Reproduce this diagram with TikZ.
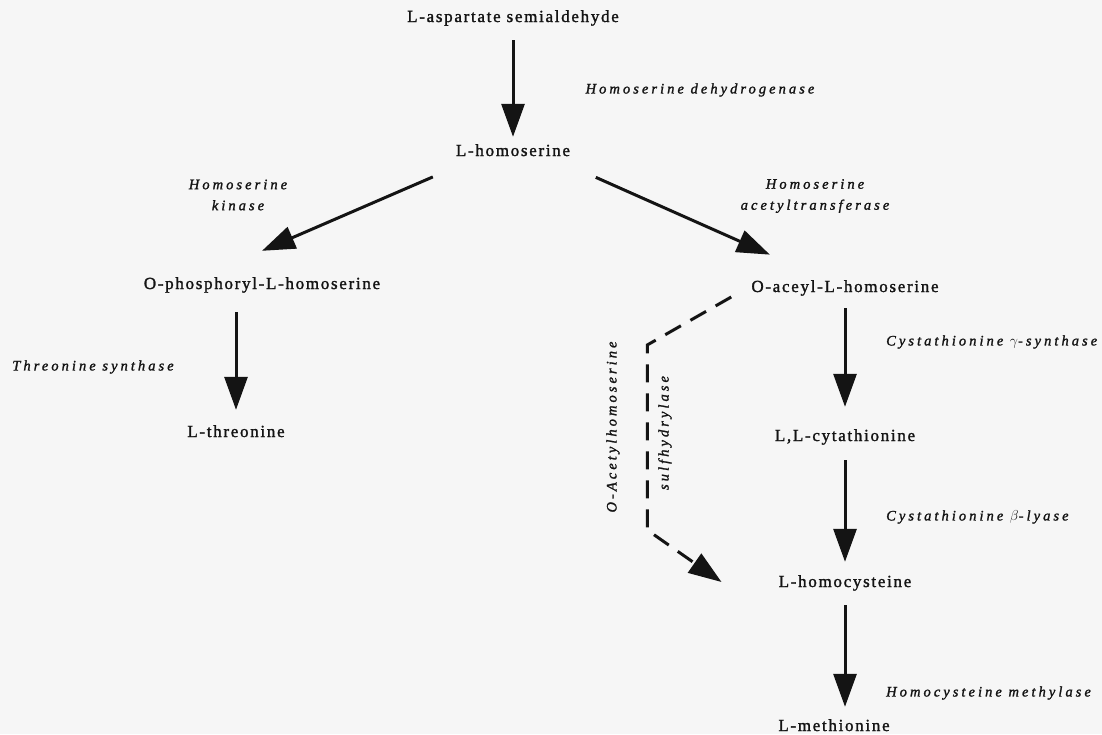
\documentclass[tikz,border=0pt]{standalone}
\usepackage{fontspec}
\setmainfont{Liberation Serif}
\newfontfamily\chemfont[LetterSpace=10, FakeBold=1.5]{Liberation Serif}
\newfontfamily\enzfont[LetterSpace=21, FakeBold=1.5]{Liberation Serif}
\usepackage{xcolor}
\usepackage{tikz}
\usetikzlibrary{arrows.meta, positioning}

\definecolor{paper}{RGB}{246,246,246}
\definecolor{ink}{RGB}{20,20,20}

\begin{document}
\begin{tikzpicture}[x=1pt, y=-1pt, >={Triangle[length=33pt, width=23pt]},
    compound/.style={inner sep=0pt, text height=12pt, text depth=4pt,
        font=\fontsize{17}{20}\chemfont, text=ink},
    enzyme/.style={inner sep=0pt, align=center,
        font=\fontsize{14.5}{21}\enzfont\itshape, text=ink},
    pathway/.style={->, line width=3pt, draw=ink},
    bypass/.style={pathway, dash pattern=on 18pt off 11pt}]

    % 1. Nền trang
    \fill[paper] (0,0) rectangle (1102,734);
    \useasboundingbox (0,0) rectangle (1102,734);

    % 2. Các chất trung gian
    \node[compound] (asp)  at (513,18)  {L-aspartate semialdehyde};
    \node[compound] (hom)  at (513,152) {L-homoserine};
    \node[compound] (phos) at (262,285) {O-phosphoryl-L-homoserine};
    \node[compound] (thr)  at (236,433) {L-threonine};
    \node[compound] (acyl) at (845,288) {O-aceyl-L-homoserine};
    \node[compound] (cyt)  at (845,437) {L,L-cytathionine};
    \node[compound] (hcy)  at (845,583) {L-homocysteine};
    \node[compound] (met)  at (834,727) {L-methionine};

    % 3. Các enzyme
    \node[enzyme] (dehyd)  at (700,90)  {Homoserine dehydrogenase};
    \node[enzyme] (kin)    at (238,195) {Homoserine\\kinase};
    \node[enzyme] (acetyl) at (815,196) {Homoserine\\acetyltransferase};
    \node[enzyme] (thrsyn) at (93,367)  {Threonine synthase};
    \node[enzyme, anchor=west] (gsyn)   at (886,342) {Cystathionine $\gamma$-synthase};
    \node[enzyme, anchor=west] (blyase) at (886,517) {Cystathionine $\beta$-lyase};
    \node[enzyme, anchor=west] (methyl) at (886,693) {Homocysteine methylase};
    \node[enzyme, rotate=90] (oacet) at (613,427) {O-Acetylhomoserine};
    \node[enzyme, rotate=90] (sulf)  at (665,433) {sulfhydrylase};

    % 4. Các mũi tên phản ứng
    \draw[pathway, shorten <=14pt, shorten >=7pt] (asp) -- (hom);
    \draw[pathway, shorten <=25pt]
        ([shift={(0,15)}]hom.west) -- ([shift={(0,-26)}]phos.north);
    \draw[pathway, shorten <=28pt, shorten >=62pt]
        ([shift={(0,14)}]hom.east) -- (acyl);
    \draw[pathway, shorten <=19pt, shorten >=15pt]
        (thr.north |- phos.south) -- (thr.north);
    \draw[pathway, shorten <=12pt, shorten >=22pt] (acyl) -- (cyt);
    \draw[pathway, shorten <=15pt, shorten >=13pt] (cyt) -- (hcy);
    \draw[pathway, shorten <=14pt, shorten >=12pt]
        (hcy.south) -- (hcy.south |- met.north);

    % 5. Nhánh tắt (nét đứt)
    \draw[bypass] ([shift={(-20,9)}]acyl.west) -- ++(-84,48) -- ++(0,185)
        -- ([shift={(-57,-1)}]hcy.west);
\end{tikzpicture}
\end{document}
